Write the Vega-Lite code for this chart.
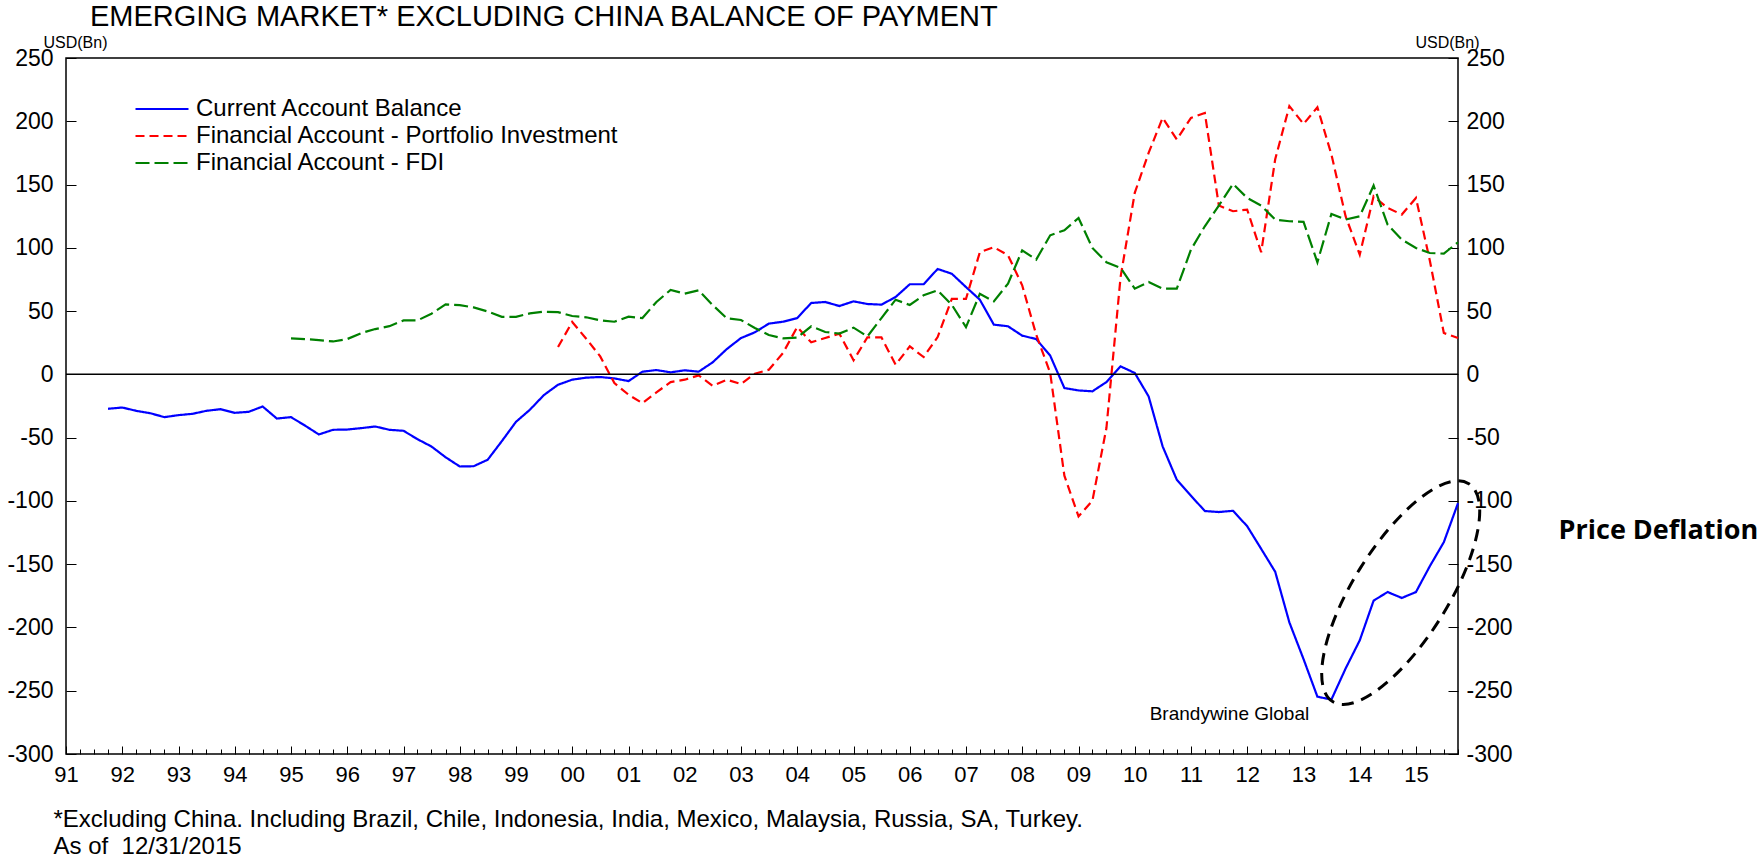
{
  "$schema": "https://vega.github.io/schema/vega-lite/v6.json",
  "width": 1392,
  "height": 696,
  "autosize": {"type": "none"},
  "padding": {"left": 66, "top": 58, "right": 300, "bottom": 105},
  "background": "white",
  "config": {
    "font": "Liberation Sans",
    "view": {"stroke": "black", "strokeWidth": 1.5},
    "axis": {"domain": false, "grid": false, "tickColor": "black", "tickWidth": 1, "labelColor": "black", "titleColor": "black", "labelFont": "Liberation Sans", "titleFont": "Liberation Sans"}
  },
  "title": {
    "text": "EMERGING MARKET* EXCLUDING CHINA BALANCE OF PAYMENT",
    "anchor": "start", "frame": "group", "orient": "top",
    "fontSize": 29, "fontWeight": "normal", "font": "Liberation Sans", "color": "black",
    "baseline": "alphabetic", "dx": 24, "offset": -21
  },
  "datasets": {
    "bop": [
      {"date": "1991-10-01", "ca": -27.2},
      {"date": "1992-01-01", "ca": -26.2},
      {"date": "1992-04-01", "ca": -28.8},
      {"date": "1992-07-01", "ca": -30.7},
      {"date": "1992-10-01", "ca": -33.8},
      {"date": "1993-01-01", "ca": -32.2},
      {"date": "1993-04-01", "ca": -31.2},
      {"date": "1993-07-01", "ca": -28.8},
      {"date": "1993-10-01", "ca": -27.5},
      {"date": "1994-01-01", "ca": -30.4},
      {"date": "1994-04-01", "ca": -29.6},
      {"date": "1994-07-01", "ca": -25.4},
      {"date": "1994-10-01", "ca": -34.9},
      {"date": "1995-01-01", "ca": -33.8, "fdi": 28.4},
      {"date": "1995-04-01", "ca": -40.4, "fdi": 27.9},
      {"date": "1995-07-01", "ca": -47.5, "fdi": 27.1},
      {"date": "1995-10-01", "ca": -43.8, "fdi": 26.0},
      {"date": "1996-01-01", "ca": -43.6, "fdi": 27.9},
      {"date": "1996-04-01", "ca": -42.5, "fdi": 32.6},
      {"date": "1996-07-01", "ca": -41.2, "fdi": 35.8},
      {"date": "1996-10-01", "ca": -43.8, "fdi": 38.1},
      {"date": "1997-01-01", "ca": -44.6, "fdi": 42.6},
      {"date": "1997-04-01", "ca": -51.2, "fdi": 42.6},
      {"date": "1997-07-01", "ca": -57.0, "fdi": 47.9},
      {"date": "1997-10-01", "ca": -65.5, "fdi": 55.3},
      {"date": "1998-01-01", "ca": -72.8, "fdi": 54.7},
      {"date": "1998-04-01", "ca": -72.6, "fdi": 52.9},
      {"date": "1998-07-01", "ca": -67.5, "fdi": 49.7},
      {"date": "1998-10-01", "ca": -52.8, "fdi": 45.5},
      {"date": "1999-01-01", "ca": -37.5, "fdi": 45.5},
      {"date": "1999-04-01", "ca": -28.0, "fdi": 48.2},
      {"date": "1999-07-01", "ca": -16.4, "fdi": 49.5},
      {"date": "1999-10-01", "ca": -8.2, "fdi": 49.2, "pi": 21.6},
      {"date": "2000-01-01", "ca": -4.2, "fdi": 46.1, "pi": 41.4},
      {"date": "2000-04-01", "ca": -2.6, "fdi": 45.1, "pi": 28.2},
      {"date": "2000-07-01", "ca": -2.1, "fdi": 42.7, "pi": 14.2},
      {"date": "2000-10-01", "ca": -3.2, "fdi": 41.6, "pi": -6.9},
      {"date": "2001-01-01", "ca": -5.3, "fdi": 45.6, "pi": -16.1},
      {"date": "2001-04-01", "ca": 2.1, "fdi": 44.5, "pi": -22.7},
      {"date": "2001-07-01", "ca": 3.4, "fdi": 57.2, "pi": -14.2},
      {"date": "2001-10-01", "ca": 1.6, "fdi": 66.7, "pi": -6.1},
      {"date": "2002-01-01", "ca": 3.2, "fdi": 63.8, "pi": -4.2},
      {"date": "2002-04-01", "ca": 2.1, "fdi": 66.4, "pi": -0.8},
      {"date": "2002-07-01", "ca": 9.5, "fdi": 54.8, "pi": -9.0},
      {"date": "2002-10-01", "ca": 20.0, "fdi": 44.3, "pi": -4.2},
      {"date": "2003-01-01", "ca": 28.7, "fdi": 43.0, "pi": -7.6},
      {"date": "2003-04-01", "ca": 33.2, "fdi": 36.6, "pi": 0.5},
      {"date": "2003-07-01", "ca": 40.1, "fdi": 31.1, "pi": 3.7},
      {"date": "2003-10-01", "ca": 41.6, "fdi": 28.5, "pi": 16.9},
      {"date": "2004-01-01", "ca": 44.5, "fdi": 29.0, "pi": 37.4},
      {"date": "2004-04-01", "ca": 56.4, "fdi": 38.0, "pi": 25.3},
      {"date": "2004-07-01", "ca": 57.2, "fdi": 33.5, "pi": 28.7},
      {"date": "2004-10-01", "ca": 54.0, "fdi": 32.2, "pi": 32.2},
      {"date": "2005-01-01", "ca": 57.7, "fdi": 36.9, "pi": 11.1},
      {"date": "2005-04-01", "ca": 55.6, "fdi": 30.0, "pi": 29.3},
      {"date": "2005-07-01", "ca": 55.1, "fdi": 44.5, "pi": 29.3},
      {"date": "2005-10-01", "ca": 61.1, "fdi": 59.0, "pi": 7.6},
      {"date": "2006-01-01", "ca": 71.2, "fdi": 54.8, "pi": 22.1},
      {"date": "2006-04-01", "ca": 71.2, "fdi": 62.5, "pi": 13.7},
      {"date": "2006-07-01", "ca": 83.3, "fdi": 66.4, "pi": 29.5},
      {"date": "2006-10-01", "ca": 79.5, "fdi": 55.0, "pi": 59.6},
      {"date": "2007-01-01", "ca": 69.0, "fdi": 37.3, "pi": 59.6},
      {"date": "2007-04-01", "ca": 59.0, "fdi": 63.6, "pi": 96.5},
      {"date": "2007-07-01", "ca": 39.3, "fdi": 57.7, "pi": 100.5},
      {"date": "2007-10-01", "ca": 38.0, "fdi": 71.7, "pi": 94.1},
      {"date": "2008-01-01", "ca": 30.6, "fdi": 98.0, "pi": 70.4},
      {"date": "2008-04-01", "ca": 27.9, "fdi": 90.7, "pi": 31.4},
      {"date": "2008-07-01", "ca": 14.8, "fdi": 109.9, "pi": 1.1},
      {"date": "2008-10-01", "ca": -10.8, "fdi": 113.9, "pi": -80.1},
      {"date": "2009-01-01", "ca": -12.7, "fdi": 123.6, "pi": -112.3},
      {"date": "2009-04-01", "ca": -13.4, "fdi": 99.9, "pi": -99.9},
      {"date": "2009-07-01", "ca": -6.1, "fdi": 88.6, "pi": -42.4},
      {"date": "2009-10-01", "ca": 6.3, "fdi": 84.1, "pi": 77.0},
      {"date": "2010-01-01", "ca": 1.1, "fdi": 67.7, "pi": 143.4},
      {"date": "2010-04-01", "ca": -17.4, "fdi": 73.0, "pi": 175.0},
      {"date": "2010-07-01", "ca": -56.9, "fdi": 67.7, "pi": 202.7},
      {"date": "2010-10-01", "ca": -83.3, "fdi": 67.7, "pi": 185.6},
      {"date": "2011-01-01", "ca": -95.9, "fdi": 98.6, "pi": 202.7},
      {"date": "2011-04-01", "ca": -108.0, "fdi": 117.0, "pi": 206.6},
      {"date": "2011-07-01", "ca": -108.8, "fdi": 133.4, "pi": 133.4},
      {"date": "2011-10-01", "ca": -107.8, "fdi": 150.5, "pi": 128.9},
      {"date": "2012-01-01", "ca": -120.0, "fdi": 139.4, "pi": 130.2},
      {"date": "2012-04-01", "ca": -137.9, "fdi": 133.4, "pi": 96.5},
      {"date": "2012-07-01", "ca": -156.0, "fdi": 122.3, "pi": 170.0},
      {"date": "2012-10-01", "ca": -196.0, "fdi": 121.0, "pi": 212.0},
      {"date": "2013-01-01", "ca": -225.0, "fdi": 120.5, "pi": 197.9},
      {"date": "2013-04-01", "ca": -254.7, "fdi": 88.6, "pi": 211.1},
      {"date": "2013-07-01", "ca": -257.0, "fdi": 126.8, "pi": 173.7},
      {"date": "2013-10-01", "ca": -232.5, "fdi": 122.3, "pi": 125.0},
      {"date": "2014-01-01", "ca": -210.2, "fdi": 124.9, "pi": 94.6},
      {"date": "2014-04-01", "ca": -178.8, "fdi": 149.2, "pi": 140.7},
      {"date": "2014-07-01", "ca": -172.0, "fdi": 118.3, "pi": 131.5},
      {"date": "2014-10-01", "ca": -176.7, "fdi": 106.5, "pi": 126.3},
      {"date": "2015-01-01", "ca": -172.0, "fdi": 99.9, "pi": 139.4},
      {"date": "2015-04-01", "ca": -151.6, "fdi": 95.9, "pi": 90.0},
      {"date": "2015-07-01", "ca": -132.6, "fdi": 95.4, "pi": 32.7},
      {"date": "2015-10-01", "ca": -101.8, "fdi": 104.4, "pi": 28.7}
    ]
  },
  "layer": [
    {
      "data": {"name": "bop"},
      "transform": [{"fold": ["ca", "pi", "fdi"], "as": ["series", "value"]}],
      "mark": {"type": "line", "strokeWidth": 2.2},
      "encoding": {
        "x": {
          "field": "date", "type": "temporal",
          "scale": {"type": "utc", "domain": [{"year": 1991, "month": 1, "date": 1, "utc": true}, {"year": 2015, "month": 10, "date": 1, "utc": true}]},
          "axis": {
            "orient": "bottom",
            "tickCount": {"interval": "month", "step": 3},
            "labelExpr": "utcmonth(datum.value) === 0 ? utcFormat(datum.value, '%y') : ''",
            "tickSize": {"condition": {"test": "utcmonth(datum.value) === 0", "value": -8}, "value": -5},
            "labelPadding": 18,
            "labelFontSize": 22,
            "labelOverlap": false, "labelFlush": false, "labelBound": false,
            "title": ["*Excluding China. Including Brazil, Chile, Indonesia, India, Mexico, Malaysia, Russia, SA, Turkey.", "As of \u00a012/31/2015"],
            "titleAnchor": "start", "titleAlign": "left", "titleX": -13, "titleY": 72,
            "titleBaseline": "alphabetic", "titleFontSize": 24, "titleFontWeight": "normal", "titleLineHeight": 27
          }
        },
        "y": {
          "field": "value", "type": "quantitative",
          "scale": {"domain": [-300, 250], "nice": false, "zero": false},
          "axis": {
            "orient": "left",
            "values": [-300, -250, -200, -150, -100, -50, 0, 50, 100, 150, 200, 250],
            "labelExpr": "toString(datum.value)",
            "tickSize": -10, "labelPadding": 23, "labelFontSize": 23,
            "title": "USD(Bn)", "titleAngle": 0, "titleAlign": "left", "titleBaseline": "middle",
            "titleX": -23, "titleY": -16, "titleFontSize": 16, "titleFontWeight": "normal"
          }
        },
        "color": {
          "field": "series", "type": "nominal",
          "scale": {"domain": ["ca", "pi", "fdi"], "range": ["#0000ff", "#ff0000", "#008000"]},
          "legend": {
            "orient": "none", "legendX": 84, "legendY": 39, "title": null,
            "labelExpr": "{'ca': 'Current Account Balance', 'pi': 'Financial Account - Portfolio Investment', 'fdi': 'Financial Account - FDI'}[datum.label]",
            "labelFontSize": 24, "labelFont": "Liberation Sans", "labelColor": "black", "labelLimit": 0,
            "symbolType": "M-3,0H3", "symbolSize": 312, "symbolStrokeWidth": 2.2,
            "labelOffset": 22, "rowPadding": 3, "padding": 0
          }
        },
        "strokeDash": {
          "field": "series", "type": "nominal",
          "scale": {"domain": ["ca", "pi", "fdi"], "range": [[1, 0], [9, 5], [14, 5]]},
          "legend": {
            "orient": "none", "legendX": 84, "legendY": 39, "title": null,
            "labelExpr": "{'ca': 'Current Account Balance', 'pi': 'Financial Account - Portfolio Investment', 'fdi': 'Financial Account - FDI'}[datum.label]",
            "labelFontSize": 24, "labelFont": "Liberation Sans", "labelColor": "black", "labelLimit": 0,
            "symbolType": "M-3,0H3", "symbolSize": 312, "symbolStrokeWidth": 2.2,
            "labelOffset": 22, "rowPadding": 3, "padding": 0
          }
        }
      }
    },
    {
      "data": {"values": [{"value": 0}]},
      "mark": {"type": "rule", "color": "black", "strokeWidth": 1.5},
      "encoding": {
        "y": {
          "field": "value", "type": "quantitative",
          "axis": {
            "orient": "right",
            "values": [-300, -250, -200, -150, -100, -50, 0, 50, 100, 150, 200, 250],
            "labelExpr": "toString(datum.value)",
            "tickSize": -10, "labelPadding": 18, "labelFontSize": 23,
            "title": "USD(Bn)", "titleAngle": 0, "titleAlign": "left", "titleBaseline": "middle",
            "titleX": -43, "titleY": -16, "titleFontSize": 16, "titleFontWeight": "normal"
          }
        }
      }
    },
    {
      "data": {"values": [{"date": "2014-09-24", "value": -172.5}]},
      "mark": {"type": "point", "shape": "M-1,0A1,0.368,0,1,1,1,0A1,0.368,0,1,1,-1,0Z", "size": 66000, "angle": 302, "filled": false, "stroke": "black", "strokeWidth": 3, "strokeDash": [12, 8], "opacity": 1},
      "encoding": {
        "x": {"field": "date", "type": "temporal", "axis": null},
        "y": {"field": "value", "type": "quantitative", "axis": null}
      }
    },
    {
      "data": {"values": [{"date": "2010-04-08", "value": -268, "label": "Brandywine Global"}]},
      "mark": {"type": "text", "font": "Liberation Sans", "fontSize": 19, "align": "left", "baseline": "middle", "color": "black"},
      "encoding": {
        "x": {"field": "date", "type": "temporal", "axis": null},
        "y": {"field": "value", "type": "quantitative", "axis": null},
        "text": {"field": "label"}
      }
    },
    {
      "data": {"values": [{"date": "2017-07-15", "value": -124, "label": "Price Deflation"}]},
      "mark": {"type": "text", "font": "Open Sans", "fontWeight": "bold", "fontSize": 27, "align": "left", "baseline": "middle", "color": "black"},
      "encoding": {
        "x": {"field": "date", "type": "temporal", "axis": null},
        "y": {"field": "value", "type": "quantitative", "axis": null},
        "text": {"field": "label"}
      }
    }
  ],
  "resolve": {"axis": {"x": "independent", "y": "independent"}}
}
